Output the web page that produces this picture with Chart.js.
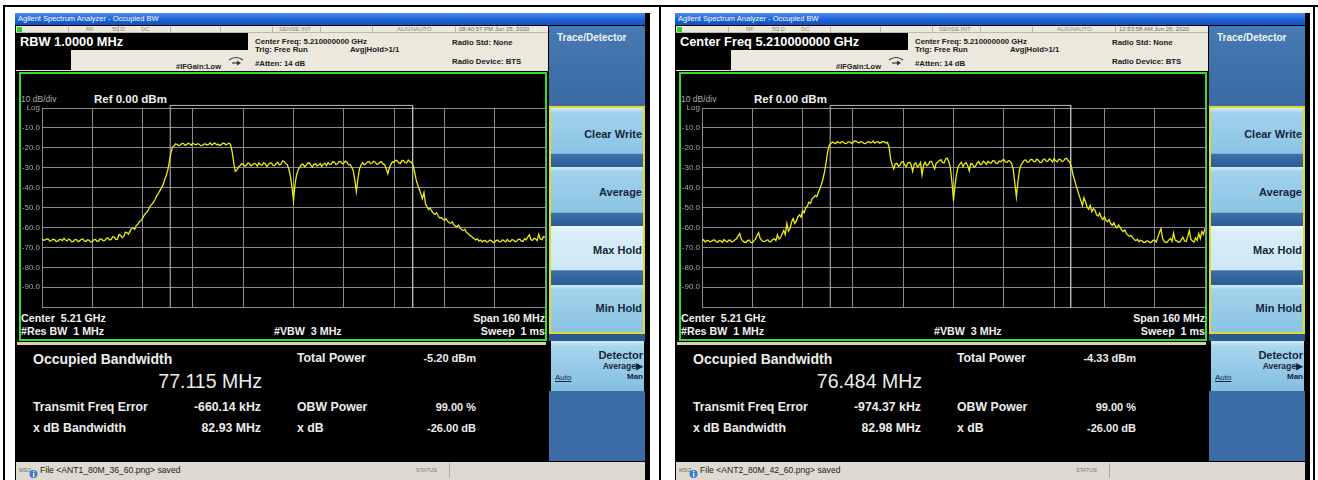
<!DOCTYPE html>
<html><head><meta charset="utf-8">
<script src="https://cdn.jsdelivr.net/npm/chart.js@4.4.1/dist/chart.umd.min.js"></script>
<style>
html,body{margin:0;padding:0;background:#fff;}
body{width:1318px;height:480px;overflow:hidden;position:relative;font-family:"Liberation Sans",Arial,Helvetica,sans-serif;}
.ln{position:absolute;background:#000;}
.scr{position:absolute;top:13px;width:635px;height:467px;background:#000;overflow:hidden;}
.a{position:absolute;white-space:pre;}
</style></head><body>
<div class="ln" style="left:3px;top:5px;width:1315px;height:2px"></div>
<div class="ln" style="left:3px;top:5px;width:2px;height:475px"></div>
<div class="ln" style="left:659px;top:5px;width:2px;height:475px"></div>
<div class="ln" style="left:1313px;top:5px;width:2px;height:475px"></div>
<div id="p0" class="scr" style="left:15px"></div>
<div id="p1" class="scr" style="left:675px"></div>
<script>
// ---------------- data ----------------
const windowTitle = 'Agilent Spectrum Analyzer - Occupied BW';
const activeFunction = ['RBW 1.0000 MHz', 'Center Freq 5.210000000 GHz'];
const timeStamps = ['08:40:57 PM Jun 25, 2020', '12:53:58 AM Jun 26, 2020'];
const statusCells = ['RF', '50 \u03A9', 'DC', 'SENSE:INT', 'ALIGNAUTO'];
const centerFreqGHz = 5.21;
const spanMHz = 160;
const traceStepMHz = 0.5;
const occBwMHz = [77.115, 76.484];
const freqErrorKHz = [-660.14, -974.37];
const totalPowerDbm = [-5.20, -4.33];
const xdbBwMHz = [82.93, 82.98];
const obwPowerPct = [99.00, 99.00];
const xdbValueDb = [-26.00, -26.00];
const savedFiles = ['ANT1_80M_36_60.png', 'ANT2_80M_42_60.png'];
const yTickLabels = ['Log','-10.0','-20.0','-30.0','-40.0','-50.0','-60.0','-70.0','-80.0','-90.0',''];
const softkeys = ['Clear Write','Average','Max Hold','Min Hold'];
const selectedSoftkey = 2;

// trace amplitudes (dBm), one point per traceStepMHz from the start of the span
const trace0 = [
-65.6,-66.4,-66.2,-65.7,-65.8,-66.9,-66.5,-65.9,-66.1,-67.0,-66.8,-66.1,-66.0,-66.6,-65.4,-66.3,-66.7,-65.8,-66.3,-67.2,
-67.0,-66.0,-66.2,-67.1,-66.6,-65.9,-65.7,-66.8,-66.9,-66.1,-66.4,-67.3,-67.1,-66.2,-66.0,-66.9,-66.8,-65.6,-65.9,-66.7,
-66.5,-65.4,-65.2,-66.3,-66.0,-64.6,-64.8,-66.0,-65.9,-63.5,-63.9,-65.1,-64.6,-62.4,-62.5,-63.3,-61.8,-60.5,-60.2,-60.9,
-58.9,-58.4,-57.0,-56.6,-55.3,-53.9,-52.8,-52.0,-50.6,-49.0,-48.2,-47.3,-45.8,-44.0,-42.9,-41.5,-40.1,-38.6,-36.0,-34.0,
-31.2,-27.0,-22.5,-19.6,-19.0,-18.0,-18.3,-18.9,-18.6,-17.8,-17.9,-18.7,-18.4,-17.6,-18.1,-18.6,-17.7,-18.2,-18.5,-17.9,
-18.2,-18.9,-18.8,-18.1,-18.0,-18.6,-18.3,-17.5,-18.6,-18.0,-17.6,-18.4,-18.2,-18.8,-18.4,-17.7,-17.8,-18.5,-18.1,-17.6,
-18.5,-22.0,-27.5,-31.8,-31.2,-29.6,-29.0,-28.0,-28.3,-29.1,-28.8,-27.6,-27.9,-29.0,-28.5,-27.8,-28.1,-29.2,-27.6,-28.5,
-28.7,-27.5,-28.0,-29.4,-28.4,-27.6,-27.7,-28.8,-28.9,-27.9,-27.3,-28.6,-28.2,-26.6,-26.8,-27.9,-28.4,-30.5,-34.0,-39.5,
-46.4,-38.0,-33.5,-31.0,-29.8,-28.4,-28.1,-29.5,-28.9,-27.7,-27.5,-28.7,-29.6,-28.3,-28.0,-29.1,-28.6,-27.9,-29.3,-28.2,
-27.8,-28.9,-27.4,-28.3,-28.2,-27.0,-27.1,-28.4,-27.9,-26.8,-26.9,-28.0,-27.6,-26.7,-27.2,-28.5,-28.3,-29.6,-31.5,-36.0,
-42.0,-35.5,-30.5,-28.6,-27.4,-28.5,-28.0,-27.1,-26.9,-28.0,-27.6,-26.8,-27.2,-28.3,-28.1,-27.2,-27.0,-28.2,-28.4,-30.6,
-33.0,-30.0,-28.2,-27.0,-27.3,-26.2,-26.5,-27.6,-27.8,-26.3,-26.4,-27.4,-27.5,-26.1,-26.9,-27.2,-28.6,-32.0,-36.0,-38.5,
-40.8,-43.0,-45.5,-42.5,-48.3,-49.5,-51.0,-50.2,-51.8,-52.9,-53.4,-52.6,-54.1,-55.2,-55.0,-55.8,-56.3,-55.6,-56.8,-57.6,
-57.9,-57.1,-58.6,-59.3,-59.6,-58.8,-60.3,-61.0,-61.5,-60.9,-62.4,-63.0,-63.8,-64.3,-65.0,-65.6,-66.2,-65.7,-66.8,-66.3,
-67.2,-66.6,-66.5,-67.4,-67.0,-66.3,-66.7,-67.5,-67.3,-66.5,-66.4,-67.2,-67.1,-66.2,-66.6,-67.3,-65.9,-66.8,-67.0,-66.1,
-66.3,-67.1,-66.8,-65.9,-65.8,-66.9,-66.9,-65.6,-66.2,-64.8,-63.6,-66.0,-66.5,-65.4,-65.7,-66.6,-63.4,-65.8,-66.1,-64.6,
-65.0];
const trace1 = [
-66.8,-66.1,-67.3,-66.6,-66.5,-67.2,-67.0,-66.3,-66.2,-67.1,-67.4,-66.5,-66.7,-67.5,-66.0,-66.8,-67.2,-66.4,-66.4,-67.3,
-66.9,-66.1,-65.6,-64.2,-63.0,-65.8,-66.8,-67.4,-67.5,-66.6,-66.3,-67.4,-67.6,-66.7,-65.8,-64.0,-62.6,-65.5,-66.4,-67.1,
-67.0,-66.3,-66.2,-67.2,-66.9,-66.0,-65.7,-66.6,-63.7,-65.8,-65.0,-63.2,-61.5,-63.6,-58.0,-61.8,-60.5,-57.2,-55.5,-58.0,
-56.8,-54.6,-53.6,-54.8,-51.5,-52.6,-50.0,-49.3,-47.2,-47.9,-45.6,-45.0,-43.9,-44.5,-42.4,-40.6,-38.2,-35.5,-32.0,-27.0,
-21.5,-18.6,-17.8,-17.1,-17.5,-17.9,-16.9,-17.4,-17.6,-16.8,-17.2,-17.9,-17.8,-17.0,-17.0,-17.7,-17.4,-16.5,-16.6,-17.3,
-17.5,-16.9,-17.1,-17.8,-17.9,-17.2,-16.8,-17.5,-17.3,-16.6,-17.6,-17.1,-16.9,-17.7,-17.4,-16.8,-17.0,-17.6,-17.3,-19.5,
-25.7,-28.6,-30.5,-28.0,-27.8,-29.3,-28.6,-27.0,-26.9,-28.7,-29.4,-27.5,-27.2,-28.4,-31.8,-28.2,-27.5,-29.6,-28.9,-27.4,
-33.6,-28.5,-27.3,-29.0,-28.4,-26.9,-26.8,-28.8,-30.6,-27.7,-27.1,-26.4,-25.9,-27.3,-27.6,-25.6,-25.2,-26.8,-30.0,-37.0,
-46.5,-38.5,-33.0,-29.4,-28.2,-27.3,-29.5,-28.1,-27.4,-28.9,-31.6,-27.9,-28.0,-29.7,-29.3,-27.6,-26.9,-28.4,-28.1,-26.7,
-27.4,-28.3,-26.8,-27.5,-27.6,-26.4,-26.5,-27.7,-27.9,-26.6,-27.0,-26.2,-25.9,-27.1,-27.3,-26.4,-26.7,-27.9,-30.8,-37.5,
-44.6,-37.0,-31.0,-28.5,-27.4,-26.3,-26.1,-27.2,-27.0,-25.9,-25.8,-26.9,-26.9,-25.7,-26.2,-27.4,-27.3,-26.0,-25.6,-26.7,
-26.8,-25.5,-26.1,-27.1,-25.4,-26.5,-27.0,-25.7,-25.9,-26.9,-26.6,-25.4,-25.3,-26.5,-27.2,-29.5,-33.5,-36.0,-39.0,-41.5,
-44.0,-46.5,-49.0,-45.0,-47.2,-49.8,-50.8,-48.9,-52.0,-50.5,-51.3,-53.6,-54.2,-52.8,-55.0,-56.0,-54.6,-56.4,-57.1,-56.0,
-58.0,-58.9,-57.6,-59.4,-60.2,-58.7,-59.8,-61.3,-62.0,-61.2,-63.1,-63.8,-64.4,-63.9,-65.2,-66.0,-66.6,-65.9,-67.1,-66.4,
-66.8,-67.5,-67.4,-66.6,-66.9,-67.6,-67.2,-66.4,-66.5,-67.3,-64.8,-62.5,-60.6,-65.4,-66.9,-67.5,-67.3,-66.2,-65.5,-66.9,
-62.8,-66.3,-66.7,-67.4,-67.2,-66.0,-64.9,-66.8,-67.0,-64.5,-61.5,-65.9,-66.8,-67.3,-65.2,-66.4,-63.0,-65.6,-62.0,-63.5,
-60.5];
const traces = [trace0, trace1];

// ---------------- drawing ----------------
const FONT = '"Liberation Sans", Arial, Helvetica, sans-serif';
function build(i){
  const P = document.getElementById('p'+i);
  const OX = 15, OY = 13;
  const box = (x,y,w,h,st)=>{const d=document.createElement('div');d.className='a';
    d.style.cssText=`left:${x-OX}px;top:${y-OY}px;width:${w}px;height:${h}px;`+(st||'');P.appendChild(d);return d;};
  const tx = (s,x,cy,size,st,right)=>{const d=document.createElement('div');d.className='a';d.textContent=s;
    d.style.cssText=`left:${x-OX}px;top:${cy-OY-size/2}px;font-size:${size}px;line-height:${size}px;height:${size}px;`+(st||'')+(right?'transform:translateX(-100%);':'');
    P.appendChild(d);return d;};

  // window title bar
  box(15,13,630,12,'background:linear-gradient(#4a8af0,#1f62d6 55%,#1450c0);');
  tx(windowTitle,18,19,7.5,'color:#fff;');

  // header (beige)
  box(16,26,532,45,'background:#ece9dc;');
  box(16,32,532,1,'background:#bdb8a8;');
  [68,118,170,220,272,320,372,455].forEach(x=>box(x,26,1,6,'background:#bdb8a8;'));
  box(17,27,5,5,'background:#2ed02e;');
  const sx = [86,112,141,279,397];
  statusCells.forEach((s,k)=>tx(s,sx[k],29.3,6,'color:#8a877c;'));
  tx(timeStamps[i],459,29.3,6,'color:#6d6a60;');
  box(15,33,233,17,'background:#000;');
  box(15,50,56,20,'background:#000;');
  tx(activeFunction[i],20,42,12.8,'color:#fff;font-weight:bold;');
  tx('#IFGain:Low',176,66.5,7.5,'color:#222;font-weight:bold;');
  const ic = box(228,52,16,10,'');
  ic.innerHTML='<svg width="16" height="10"><path d="M1 4 Q8 -1 15 4" stroke="#333" stroke-width="1.2" fill="none"/><path d="M4 7 L10 7" stroke="#333" stroke-width="1.2"/><path d="M9 4.5 L13 7 L9 9.5 Z" fill="#333"/></svg>';
  tx('Center Freq: 5.210000000 GHz',255,42,7.8,'color:#1a1a1a;font-weight:bold;');
  tx('Trig: Free Run',255,49.5,7.8,'color:#1a1a1a;font-weight:bold;');
  tx('#Atten: 14 dB',255,64,7.8,'color:#1a1a1a;font-weight:bold;');
  tx('Avg|Hold>1/1',350,49.5,7.8,'color:#1a1a1a;font-weight:bold;');
  tx('Radio Std: None',452,42.5,7.8,'color:#1a1a1a;font-weight:bold;');
  tx('Radio Device: BTS',452,62,7.8,'color:#1a1a1a;font-weight:bold;');

  // softkey panel
  box(549,26,96,80,'background:linear-gradient(#4779b2,#3a6aa3);');
  tx('Trace/Detector',557,38,10,'color:#eef3f8;font-weight:bold;');
  box(549,106,96,228,'box-sizing:border-box;border:2px solid #e2da2a;background:#2c5c94;');
  const bY=[108,167,226,285], bH=[58,58,58,47], tY=[134,192,250,308];
  softkeys.forEach((s,k)=>{
    const sel = k===selectedSoftkey, last = k===softkeys.length-1;
    let bg;
    if (sel) bg='linear-gradient(#f4fbfe,#d8eef9 8%,#cde8f6 76%,#3d6fa8 77%,#2b5c96)';
    else if (last) bg='linear-gradient(#d4edf9,#a2d2eb 10%,#8bc4e4 100%)';
    else bg='linear-gradient(#d4edf9,#a2d2eb 8%,#8bc4e4 78%,#3d6fa8 80%,#2b5c96)';
    box(551,bY[k],92,bH[k],'background:'+bg+';');
    tx(s,642,tY[k],11,'color:#16253a;font-weight:bold;',true);
  });
  box(549,334,96,7,'background:#2a5a92;');
  box(551,341,93,50,'background:linear-gradient(#cfe9f6,#a6d4ec 12%,#84bfe1);');
  tx('Detector',643,355,11,'color:#16253a;font-weight:bold;',true);
  tx('Average\u25B6',643,366,8.5,'color:#16253a;font-weight:bold;',true);
  tx('Auto',555,378,8,'color:#16253a;text-decoration:underline;');
  tx('Man',643,377,8,'color:#16253a;font-weight:bold;',true);
  box(549,391,96,70,'background:#3b6ba4;');

  // graticule frame
  box(19,72,528,269,'box-sizing:border-box;border:2px solid #2fe02f;background:#000;');
  box(17,342,529,3,'background:#d6ceb5;');
  tx('10 dB/div',21,99.5,8.5,'color:#a8a8a8;');
  tx('Ref 0.00 dBm',94,99.5,11.5,'color:#f0f0f0;font-weight:bold;');
  tx('Center  '+centerFreqGHz.toFixed(2)+' GHz',21,318.5,10.7,'color:#f0f0f0;font-weight:bold;');
  tx('#Res BW  1 MHz',21,331.5,10.7,'color:#f0f0f0;font-weight:bold;');
  tx('#VBW  3 MHz',274,331.5,10.7,'color:#f0f0f0;font-weight:bold;');
  tx('Span '+spanMHz+' MHz',545,318.5,10.7,'color:#f0f0f0;font-weight:bold;',true);
  tx('Sweep  1 ms',545,331.5,10.7,'color:#f0f0f0;font-weight:bold;',true);

  // results
  const W='color:#ececec;';
  tx('Occupied Bandwidth',33,359,14,W+'font-weight:bold;');
  tx(occBwMHz[i].toFixed(3)+' MHz',262,382,19.5,W,true);
  tx('Total Power',297,358,12.3,W+'font-weight:bold;');
  tx(totalPowerDbm[i].toFixed(2)+' dBm',476,358,11,W+'font-weight:bold;',true);
  tx('Transmit Freq Error',33,407.5,12.3,W+'font-weight:bold;');
  tx(freqErrorKHz[i].toFixed(2)+' kHz',261,407.5,12.3,W+'font-weight:bold;',true);
  tx('OBW Power',297,407.5,12.3,W+'font-weight:bold;');
  tx(obwPowerPct[i].toFixed(2)+' %',476,407.5,11,W+'font-weight:bold;',true);
  tx('x dB Bandwidth',33,428.5,12.3,W+'font-weight:bold;');
  tx(xdbBwMHz[i].toFixed(2)+' MHz',261,428.5,12.3,W+'font-weight:bold;',true);
  tx('x dB',297,428.5,12.3,W+'font-weight:bold;');
  tx(xdbValueDb[i].toFixed(2)+' dB',476,428.5,11,W+'font-weight:bold;',true);

  // bottom message bar
  box(16,462,629,18,'background:#dedad0;');
  tx('MSG',19,470.5,5.5,'color:#666;');
  const ib = box(29,465,9,10,'');
  ib.innerHTML='<svg width="9" height="10"><circle cx="4.5" cy="5" r="4" fill="#3a7ad0"/><rect x="4" y="4" width="1.3" height="4" fill="#fff"/><rect x="4" y="2" width="1.3" height="1.2" fill="#fff"/></svg>';
  tx('File <'+savedFiles[i]+'> saved',40,470.5,8.6,'color:#222;');
  tx('STATUS',416,470.5,5.5,'color:#777;');
  box(449,463,1,15,'background:#aaa;');

  // chart
  const cv = document.createElement('canvas');
  cv.width=526; cv.height=214;
  cv.style.cssText=`position:absolute;left:${20-OX}px;top:${100-OY}px;width:526px;height:214px;`;
  P.appendChild(cv);
  const pts = traces[i].map((v,k)=>({x:k*traceStepMHz, y:v}));
  const c = spanMHz/2 + freqErrorKHz[i]/1000;
  const lo = c - occBwMHz[i]/2, hi = c + occBwMHz[i]/2;
  const marks = [{x:lo,y:-100},{x:lo,y:1.3},{x:hi,y:1.3},{x:hi,y:-100}];
  new Chart(cv, {
    type:'line',
    data:{datasets:[
      {data:pts, borderColor:'#ecec10', borderWidth:1.3, pointRadius:0, tension:0, order:0},
      {data:marks, borderColor:'#bdbdbd', borderWidth:1, pointRadius:0, tension:0, clip:false, order:1}
    ]},
    options:{
      responsive:false, animation:false, devicePixelRatio:1,
      layout:{padding:{top:8,right:1,left:0,bottom:0}},
      plugins:{legend:{display:false}, tooltip:{enabled:false}},
      scales:{
        x:{type:'linear', min:0, max:spanMHz,
           ticks:{display:false, stepSize:spanMHz/10},
           grid:{color:'#8c8c8c', drawTicks:false, lineWidth:1},
           border:{display:true, color:'#8c8c8c'},
           afterFit:s=>{s.height=4;}},
        y:{type:'linear', min:-100, max:0,
           ticks:{stepSize:10, padding:2, color:'#a6a6a6', font:{size:8, family:FONT},
                  callback:v=>{const k=Math.round(-v/10);return yTickLabels[k]!==undefined?yTickLabels[k]:'';}},
           grid:{color:'#8c8c8c', drawTicks:false, lineWidth:1},
           border:{display:true, color:'#8c8c8c'},
           afterFit:s=>{s.width=22;}}
      }
    }
  });
}
build(0); build(1);
</script>
</body></html>
